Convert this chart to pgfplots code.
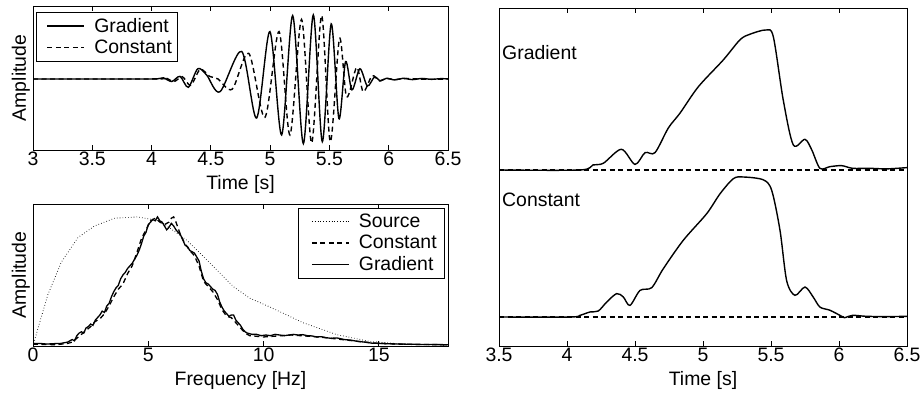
\documentclass[border=0pt]{standalone}
\usepackage{fontspec}
\setmainfont{Liberation Sans}
\usepackage{pgfplots}
\usepackage{pgfplotstable}
\pgfplotsset{compat=1.18}

\pgfplotstableread{
t y
3.0 0
3.6 0
4.0 0
4.06 0.005
4.10 0.018
4.17 -0.04
4.24 0.04
4.31 -0.13
4.39 0.16
4.465 0.06
4.577 -0.20
4.76 0.43
4.886 -0.61
4.998 0.74
5.097 -0.875
5.19 0.99
5.28 -1.01
5.364 1.0
5.44 -0.98
5.515 0.86
5.58 -0.62
5.636 0.27
5.69 -0.17
5.757 0.16
5.82 -0.11
5.88 0.03
5.93 -0.03
5.98 0.01
6.05 -0.015
6.12 0.01
6.2 -0.01
6.28 0.008
6.36 -0.006
6.44 0.005
6.5 0
}\wavegrad

\pgfplotstableread{
t y
3.0 0
4.0 0
4.08 0.005
4.12 0.015
4.19 -0.04
4.26 0.035
4.33 -0.10
4.41 0.15
4.49 0.04
4.56 0.0
4.68 -0.16
4.82 0.40
4.956 -0.60
5.075 0.74
5.167 -0.875
5.265 0.93
5.35 -1.0
5.434 0.99
5.507 -0.98
5.585 0.63
5.645 -0.28
5.73 0.18
5.785 -0.20
5.86 0.05
5.92 -0.03
5.98 0.01
6.05 -0.01
6.15 0.008
6.3 -0.005
6.5 0
}\waveconst

\pgfplotstableread{
f y
0 0
0.22 0.14
0.65 0.40
1.23 0.65
1.95 0.84
2.67 0.93
3.54 0.99
4.55 1.0
5.5 0.97
6.66 0.82
7.24 0.72
7.97 0.59
8.69 0.46
9.41 0.37
10.3 0.30
11.72 0.18
13.17 0.088
14.6 0.036
16 0.015
18 0.005
}\specsource

\pgfplotstableread{
f y
0 0.02
0.3 0.02
0.6 0.015
0.9 0.018
1.2 0.02
1.5 0.03
1.7 0.05
1.8 0.04
1.9 0.08
2.0 0.10
2.1 0.11
2.2 0.10
2.3 0.14
2.4 0.15
2.5 0.17
2.6 0.16
2.7 0.20
2.8 0.22
2.9 0.24
3.0 0.27
3.1 0.26
3.2 0.31
3.3 0.33
3.4 0.38
3.5 0.42
3.6 0.45
3.7 0.47
3.8 0.52
3.9 0.55
4.0 0.57
4.1 0.60
4.2 0.62
4.3 0.64
4.4 0.67
4.5 0.70
4.6 0.74
4.7 0.79
4.8 0.85
4.9 0.88
5.0 0.94
5.1 0.96
5.2 0.98
5.3 0.97
5.4 1.0
5.5 0.97
5.6 0.96
5.7 0.93
5.8 0.90
5.9 0.92
6.0 0.95
6.1 0.93
6.2 0.90
6.3 0.88
6.4 0.86
6.5 0.82
6.6 0.78
6.7 0.77
6.8 0.74
6.9 0.73
7.0 0.72
7.1 0.69
7.2 0.66
7.3 0.58
7.4 0.52
7.5 0.49
7.6 0.48
7.7 0.46
7.8 0.44
7.9 0.43
8.0 0.40
8.1 0.34
8.2 0.30
8.3 0.27
8.4 0.25
8.5 0.23
8.6 0.24
8.7 0.24
8.8 0.20
8.9 0.18
9.0 0.16
9.1 0.13
9.2 0.11
9.3 0.10
9.5 0.09
9.7 0.09
9.9 0.08
10.1 0.085
10.3 0.08
10.5 0.09
10.7 0.085
10.9 0.08
11.1 0.085
11.3 0.09
11.5 0.085
11.7 0.088
11.9 0.08
12.1 0.078
12.3 0.07
12.5 0.072
12.7 0.065
12.9 0.06
13.2 0.062
13.5 0.05
13.8 0.045
14.1 0.035
14.4 0.03
14.7 0.022
15 0.02
15.5 0.017
16 0.015
16.5 0.013
17 0.012
18 0.01
}\specgrad

\pgfplotstableread{
f y
0 0.015
0.5 0.012
1.0 0.01
1.5 0.02
1.7 0.03
1.9 0.06
2.1 0.09
2.3 0.12
2.5 0.15
2.7 0.19
2.9 0.21
3.1 0.25
3.3 0.31
3.5 0.38
3.7 0.44
3.9 0.48
4.1 0.56
4.3 0.62
4.5 0.72
4.7 0.83
4.9 0.90
5.1 0.97
5.3 0.99
5.5 0.96
5.7 0.94
5.9 0.96
6.0 0.99
6.1 1.0
6.2 0.96
6.4 0.86
6.6 0.79
6.8 0.74
7.0 0.70
7.2 0.62
7.4 0.50
7.6 0.46
7.8 0.42
8.0 0.36
8.2 0.28
8.4 0.23
8.6 0.22
8.8 0.18
9.0 0.14
9.2 0.10
9.4 0.08
9.7 0.075
10 0.07
10.4 0.075
10.8 0.08
11.2 0.085
11.6 0.08
12 0.075
12.5 0.068
13 0.058
13.5 0.048
14 0.038
14.5 0.028
15 0.02
16 0.014
17 0.011
18 0.01
}\specconst

\pgfplotstableread{
t y
3.5 0
4.096 0
4.19 0.036
4.267 0.048
4.40 0.148
4.50 0.04
4.574 0.124
4.647 0.124
4.745 0.30
4.83 0.405
4.966 0.595
5.149 0.786
5.272 0.93
5.346 0.97
5.463 1.0
5.517 0.952
5.59 0.50
5.664 0.179
5.75 0.219
5.80 0.143
5.86 0.012
5.934 0.024
6.02 0.031
6.10 0.012
6.225 0.012
6.35 0.008
6.5 0.017
}\envgrad

\pgfplotstableread{
t y
3.5 0
4.022 0
4.096 0.012
4.169 0.036
4.23 0.043
4.292 0.107
4.365 0.167
4.414 0.143
4.463 0.083
4.537 0.19
4.623 0.21
4.708 0.345
4.855 0.548
5.027 0.738
5.125 0.88
5.223 0.988
5.297 1.0
5.443 0.98
5.505 0.905
5.566 0.62
5.615 0.26
5.676 0.155
5.75 0.214
5.81 0.143
5.86 0.071
5.934 0.048
6.02 0.005
6.04 -0.005
6.10 0.012
6.2 0.005
6.35 0.003
6.5 0.005
}\envconst

\newcommand{\bigfont}{\fontsize{19.5}{22}\selectfont}

\begin{document}
\begin{tikzpicture}[font=\bigfont]
\useasboundingbox (0,0) rectangle (922bp,396bp);
\pgfplotsset{
  every axis/.append style={
    scale only axis, anchor=south west,
    font=\bigfont,
    tick label style={font=\bigfont},
    label style={font=\bigfont},
    legend style={font=\bigfont},
    axis line style={line width=0.9bp},
    every tick/.style={black, line width=0.9bp},
    major tick length=5bp,
    /pgf/number format/assume math mode=true,
    ytick=\empty,
    xticklabel style={inner sep=1bp, yshift=-1bp},
    xlabel style={inner sep=0bp, yshift=-8bp},
    every axis y label/.style={at={(0,0.5)}, rotate=90, anchor=south, inner sep=3bp, font=\bigfont},
    legend cell align=left,
    legend image code/.code={\path[draw=none,fill=none] (-8bp,0bp) -- (45bp,0bp); \draw[#1] (0bp,0bp) -- (37bp,0bp);},
  },
  gradstyle/.style={black, line width=1.4bp, smooth},
  conststyle/.style={black, line width=1.4bp, smooth, dash pattern=on 5bp off 3.5bp},
}
% top-left: waveforms
\begin{axis}[at={(33bp,246bp)}, width=415bp, height=144bp,
  xmin=3, xmax=6.5, ymin=-1.11, ymax=1.14,
  xtick={3,3.5,4,4.5,5,5.5,6,6.5},
  xlabel={Time [s]}, ylabel={Amplitude},
  legend style={at={(0,1)}, anchor=north west, xshift=3bp, yshift=-6bp,
    draw=black, line width=0.7bp, inner xsep=3bp, inner ysep=4bp, row sep=2bp}]
\addplot[gradstyle] table[x=t,y=y] {\wavegrad};
\addlegendentry{Gradient\hspace{11bp}}
\addplot[conststyle] table[x=t,y=y] {\waveconst};
\addlegendentry{Constant\hspace{11bp}}
\end{axis}
% bottom-left: spectra
\begin{axis}[at={(33bp,50bp)}, width=415bp, height=142bp,
  xmin=0, xmax=18, ymin=0, ymax=1.10,
  xtick={0,5,10,15},
  xlabel={Frequency [Hz]}, ylabel={Amplitude},
  legend style={at={(1,1)}, anchor=north east, xshift=-3bp, yshift=-4bp,
    draw=black, line width=0.7bp, inner xsep=6bp, inner ysep=4bp, row sep=2bp}]
\addplot[black, line width=0.8bp, dash pattern=on 0.6bp off 2.2bp] table[x=f,y=y] {\specsource};
\addlegendentry{Source\hspace{12bp}}
\addplot[black, line width=1.3bp, dash pattern=on 5bp off 3.5bp] table[x=f,y=y] {\specconst};
\addlegendentry{Constant\hspace{12bp}}
\addplot[black, line width=1.3bp] table[x=f,y=y] {\specgrad};
\addlegendentry{Gradient\hspace{12bp}}
\end{axis}
% right: envelopes
\begin{axis}[at={(499bp,50bp)}, width=408bp, height=338bp,
  xmin=3.5, xmax=6.5, ymin=-0.207, ymax=2.207,
  xtick={3.5,4,4.5,5,5.5,6,6.5},
  xlabel={Time [s]}]
\addplot[black, line width=1.1bp, dash pattern=on 5bp off 3.5bp] coordinates {(3.5,0) (6.5,0)};
\addplot[black, line width=1.1bp, dash pattern=on 5bp off 3.5bp] coordinates {(3.5,1.05) (6.5,1.05)};
\addplot[gradstyle] table[x=t, y expr=\thisrow{y}+1.05] {\envgrad};
\addplot[gradstyle] table[x=t,y=y] {\envconst};
\node[anchor=west, inner sep=3bp, font=\bigfont] at (rel axis cs:0,0.867) {Gradient};
\node[anchor=west, inner sep=3bp, font=\bigfont] at (rel axis cs:0,0.432) {Constant};
\end{axis}
\end{tikzpicture}
\end{document}
